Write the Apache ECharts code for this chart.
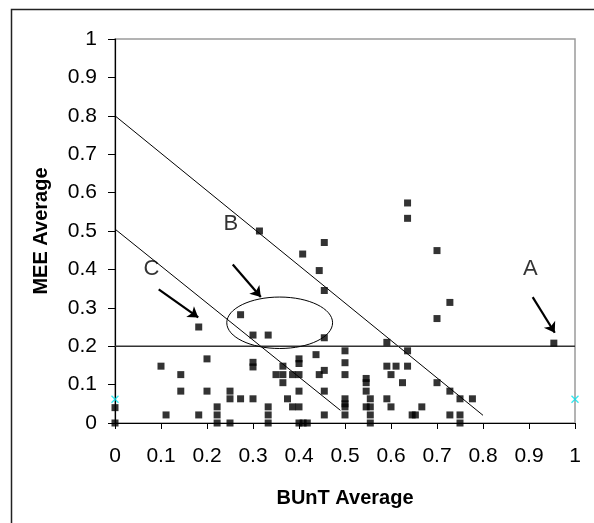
<!DOCTYPE html>
<html>
<head>
<meta charset="utf-8">
<script src="https://cdn.jsdelivr.net/npm/echarts@6/dist/echarts.min.js"></script>
<style>
  html, body { margin: 0; padding: 0; background: #fff; }
  #chart { width: 594px; height: 523px; }
</style>
</head>
<body>
<div id="chart"></div>
<script>
// observations [BUnT Average, MEE Average]
var points = [
  [0, 0], [0, 0.04],
  [0.1, 0.148], [0.111, 0.021],
  [0.143, 0.126], [0.143, 0.083],
  [0.182, 0.25], [0.182, 0.021],
  [0.2, 0.167], [0.2, 0.083],
  [0.222, 0.042], [0.222, 0.021], [0.222, 0],
  [0.25, 0.083], [0.25, 0.063], [0.25, 0],
  [0.273, 0.282], [0.273, 0.063],
  [0.3, 0.229], [0.3, 0.158], [0.3, 0.146], [0.3, 0.063],
  [0.314, 0.5],
  [0.333, 0.229], [0.333, 0.042], [0.333, 0.021], [0.333, 0],
  [0.35, 0.126],
  [0.365, 0.148], [0.365, 0.126], [0.365, 0.105],
  [0.375, 0.063],
  [0.386, 0.126], [0.386, 0.042],
  [0.4, 0.167], [0.4, 0.155], [0.4, 0.126], [0.4, 0.083], [0.4, 0.042], [0.4, 0],
  [0.409, 0], [0.418, 0],
  [0.408, 0.44],
  [0.437, 0.178],
  [0.444, 0.397], [0.444, 0.126],
  [0.455, 0.47], [0.455, 0.345], [0.455, 0.222], [0.455, 0.137], [0.455, 0.083], [0.455, 0.021],
  [0.5, 0.188], [0.5, 0.157], [0.5, 0.126], [0.5, 0.063], [0.5, 0.05], [0.5, 0.042], [0.5, 0.021],
  [0.546, 0.116], [0.546, 0.105], [0.546, 0.083], [0.546, 0.042],
  [0.555, 0.063], [0.555, 0.042], [0.555, 0.021], [0.555, 0],
  [0.591, 0.21], [0.591, 0.148], [0.591, 0.063],
  [0.6, 0.126], [0.6, 0.042],
  [0.611, 0.148],
  [0.625, 0.105],
  [0.636, 0.573], [0.636, 0.533], [0.636, 0.188], [0.636, 0.148],
  [0.646, 0.021], [0.653, 0.021],
  [0.667, 0.042],
  [0.7, 0.449], [0.7, 0.272], [0.7, 0.105],
  [0.728, 0.314], [0.728, 0.083], [0.728, 0.021],
  [0.75, 0.063], [0.75, 0.021], [0.75, 0],
  [0.777, 0.063],
  [0.954, 0.208]
];
var refPoints = [[0, 0.062], [1, 0.062]];   // cyan markers

// reference lines
var lineOuter = [[0, 0.8], [0.8, 0.02]];
var lineInner = [[0, 0.505], [0.49, 0.033]];
var lineLevel = [[0, 0.2], [1, 0.2]];

// ellipse: centre x, centre y, radius x, radius y
var ellipse = [0.358, 0.261, 0.115, 0.067];

// annotation arrows [from, to] and letters
var arrows = [
  [[0.908, 0.328], [0.956, 0.235]],
  [[0.256, 0.413], [0.317, 0.328]],
  [[0.095, 0.348], [0.181, 0.275]]
];
var letters = [
  { name: 'A', value: [0.903, 0.402] },
  { name: 'B', value: [0.252, 0.518] },
  { name: 'C', value: [0.079, 0.402] }
];

var chart = echarts.init(document.getElementById('chart'));

var font = 'Liberation Sans';

function refLine(data, width, color) {
  return {
    type: 'line',
    data: data,
    symbol: 'none',
    silent: true,
    lineStyle: { color: color, width: width },
    z: 1
  };
}

function tickText(v) { return +v.toFixed(1) + ''; }

var option = {
  animation: false,
  backgroundColor: '#fff',
  graphic: [{
    type: 'rect',
    shape: { x: 11.5, y: 9.5, width: 700, height: 700 },
    style: { fill: 'none', stroke: '#222', lineWidth: 1.5 },
    silent: true
  }],
  grid: {
    left: 115, top: 39, width: 460, height: 384,
    show: true, borderColor: '#9a9a9a', borderWidth: 1.5
  },
  xAxis: {
    type: 'value', min: 0, max: 1, interval: 0.1,
    name: 'BUnT Average', nameLocation: 'middle', nameGap: 65,
    nameTextStyle: { fontFamily: font, fontSize: 20, fontWeight: 'bold', color: '#000' },
    axisLine: { lineStyle: { color: '#000', width: 1.2 } },
    axisTick: { show: true, length: 6, lineStyle: { color: '#000' } },
    axisLabel: { margin: 23, fontFamily: font, fontSize: 21, color: '#000', formatter: tickText },
    splitLine: { show: false }
  },
  yAxis: {
    type: 'value', min: 0, max: 1, interval: 0.1,
    name: 'MEE Average', nameLocation: 'middle', nameGap: 64,
    nameTextStyle: { fontFamily: font, fontSize: 20, fontWeight: 'bold', color: '#000' },
    axisLine: { show: true, lineStyle: { color: '#000', width: 1.2 } },
    axisTick: { show: true, length: 7, lineStyle: { color: '#000' } },
    axisLabel: { margin: 18, fontFamily: font, fontSize: 21, color: '#000', formatter: tickText },
    splitLine: { show: false }
  },
  series: [
    refLine(lineOuter, 1, '#000'),
    refLine(lineInner, 1, '#000'),
    refLine(lineLevel, 1.5, '#333'),
    {
      type: 'custom',
      silent: true,
      z: 2,
      data: [ellipse],
      renderItem: function (params, api) {
        var c = api.coord([api.value(0), api.value(1)]);
        var s = api.size([api.value(2), api.value(3)]);
        return {
          type: 'ellipse',
          shape: { cx: c[0], cy: c[1], rx: s[0], ry: s[1] },
          style: { fill: 'none', stroke: '#000', lineWidth: 1 }
        };
      }
    },
    {
      type: 'lines',
      coordinateSystem: 'cartesian2d',
      silent: true,
      z: 3,
      symbol: ['none', 'arrow'],
      symbolSize: 10,
      lineStyle: { color: '#000', width: 2.2, opacity: 1 },
      data: arrows.map(function (a) { return { coords: a }; })
    },
    {
      type: 'scatter',
      data: letters,
      symbolSize: 0,
      silent: true,
      label: {
        show: true, position: 'inside',
        formatter: '{b}', fontFamily: font, fontSize: 22, color: '#000'
      }
    },
    {
      type: 'scatter',
      data: points,
      symbol: 'rect',
      symbolSize: 7,
      clip: false,
      itemStyle: { color: '#000' },
      z: 5
    },
    {
      type: 'scatter',
      data: refPoints,
      symbol: 'path://M0,0L10,10M10,0L0,10',
      symbolSize: 7,
      clip: false,
      itemStyle: { color: 'none', borderColor: '#00e5ee', borderWidth: 1.3 },
      z: 5
    }
  ]
};

chart.setOption(option);
</script>
</body>
</html>
